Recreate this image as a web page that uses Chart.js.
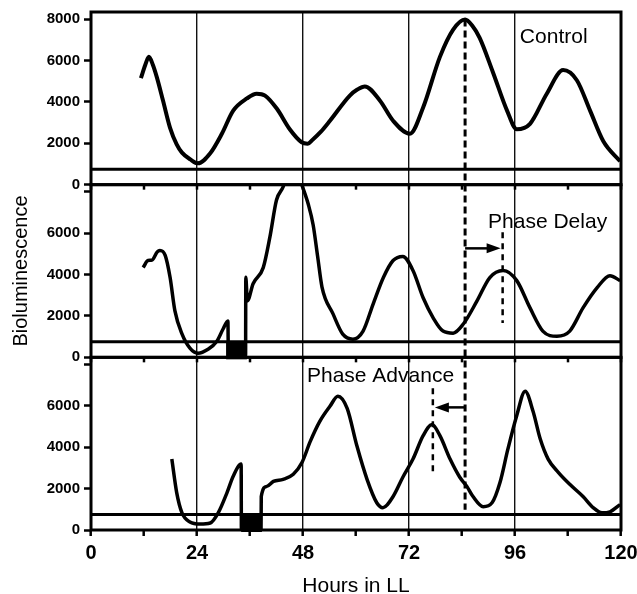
<!DOCTYPE html>
<html>
<head>
<meta charset="utf-8">
<script src="https://cdn.jsdelivr.net/npm/chart.js@4.4.0/dist/chart.umd.min.js"></script>
<style>
  body { margin: 0; background: #fff; }
  #contenitore { width: 637px; height: 594px; }
</style>
</head>
<body>
<div id="contenitore"><canvas id="grafico"></canvas></div>
<script>
// hours in LL and bioluminescence
var ore_control = [11.3, 12.3, 13.1, 14.0, 14.9, 16.3, 17.9, 19.4, 20.6, 22.5, 24.2, 27.0, 29.6, 32.2, 35.3, 37.5, 39.4, 42.1, 45.0, 47.7, 49.0, 50.3, 52.0, 54.1, 58.6, 60.3, 62.0, 65.4, 68.4, 72.2, 75.2, 79.0, 82.0, 84.7, 86.3, 88.0, 91.0, 94.2, 96.4, 99.4, 103.2, 106.9, 110.0, 113.0, 116.0, 119.8];
var valori_control = [5150, 5800, 6180, 5800, 5200, 4070, 2750, 1950, 1550, 1220, 1030, 1520, 2450, 3580, 4170, 4400, 4310, 3670, 2680, 2050, 1980, 2200, 2550, 3090, 4310, 4600, 4750, 4070, 3090, 2460, 3730, 6180, 7500, 7990, 7700, 7100, 5440, 3580, 2680, 2940, 4400, 5540, 5050, 3580, 2100, 1130];

var ore_delay = [11.8, 12.9, 13.8, 15.0, 15.6, 16.8, 17.9, 19.0, 20.6, 22.4, 24.2, 26.5, 28.5, 29.9, 31.0, 31.1, 35.0, 35.05, 35.4, 36.7, 39.0, 40.5, 42.0, 43.5, 45.6, 47.8, 49.2, 50.3, 51.3, 52.3, 54.8, 57.0, 59.3, 61.6, 63.9, 66.2, 68.4, 70.6, 72.9, 75.2, 77.5, 79.7, 82.0, 84.3, 87.4, 90.3, 93.3, 96.4, 99.4, 102.3, 105.5, 108.4, 111.4, 114.6, 117.5, 119.8];
var valori_delay = [4340, 4680, 4700, 5100, 5170, 4930, 3870, 2250, 1130, 440, 200, 390, 780, 1370, 1760, 0, 0, 3870, 2730, 3560, 4340, 5810, 7610, 8240, 9600, 8300, 7400, 6400, 4900, 3400, 2100, 1120, 880, 1270, 2590, 3860, 4680, 4880, 4200, 2880, 1900, 1270, 1170, 1610, 2730, 3860, 4200, 3710, 2390, 1270, 1020, 1270, 2390, 3370, 3950, 3710];

var ore_advance = [18.3, 19.4, 20.6, 22.4, 24.7, 27.0, 28.8, 30.8, 32.2, 34.0, 34.05, 38.5, 38.55, 39.8, 41.3, 43.5, 45.8, 47.8, 49.6, 51.8, 54.1, 55.9, 58.0, 60.2, 62.5, 64.7, 66.1, 68.4, 70.6, 72.9, 75.2, 77.2, 79.0, 81.3, 83.5, 85.1, 86.5, 88.8, 90.8, 92.6, 94.4, 96.4, 98.3, 100.1, 101.7, 103.5, 105.8, 108.4, 111.4, 113.7, 115.7, 117.5, 119.8];
var valori_advance = [3430, 1810, 830, 390, 290, 340, 830, 1810, 2600, 3190, 0, 0, 1620, 2110, 2350, 2450, 2700, 3280, 4260, 5250, 5980, 6470, 5880, 4070, 2450, 1320, 1080, 1620, 2550, 3430, 4560, 5100, 4560, 3430, 2550, 2110, 1620, 1130, 1320, 2300, 3920, 5540, 6710, 5730, 4410, 3430, 2790, 2210, 1620, 1080, 830, 880, 1230];

// axes
var tacche_x = [0, 12, 24, 36, 48, 60, 72, 84, 96, 108, 120];
var linee_giorno = [24, 48, 72, 96];
var tacche_y = [0, 2000, 4000, 6000, 8000];
var massimo_y = 8350;
var linea_base = 750;

// light pulses (start, end hour) and peaks used by the arrows
var impulso_delay = [30.6, 35.3];
var impulso_advance = [34.0, 38.7];
var picco_control = [84.7, 7990];
var picco_delay = [93.2, 4200];
var picco_advance = [77.4, 5100];

function punti(ore, valori) {
  var lista = [];
  for (var i = 0; i < ore.length; i++) {
    lista.push({x: ore[i], y: valori[i]});
  }
  return lista;
}

function curva(etichetta, ore, valori, asse, spessore) {
  return {
    label: etichetta,
    data: punti(ore, valori),
    yAxisID: asse,
    borderColor: '#000',
    borderWidth: spessore,
    pointRadius: 0,
    cubicInterpolationMode: 'monotone',
    fill: false
  };
}

function base(asse) {
  return {
    label: 'base',
    data: [{x: 0, y: linea_base}, {x: 120, y: linea_base}],
    yAxisID: asse,
    borderColor: '#000',
    borderWidth: 3,
    pointRadius: 0,
    fill: false
  };
}

function asse_y(nascondi_8000, con_titolo) {
  return {
    type: 'linear',
    position: 'left',
    stack: 'pannelli',
    stackWeight: 1,
    min: 0,
    max: massimo_y,
    afterBuildTicks: function(scale) {
      scale.ticks = tacche_y.map(function(v) { return {value: v}; });
    },
    afterFit: function(scale) {
      scale.width = 91;
      scale.paddingTop = 0;
      scale.paddingBottom = 0;
    },
    ticks: {
      color: '#000',
      padding: 4,
      font: {family: '"Liberation Sans", Arial, sans-serif', size: 15, weight: 'bold'},
      callback: function(v) { return (nascondi_8000 && v === 8000) ? '' : v; }
    },
    grid: {drawOnChartArea: false, drawTicks: true, tickLength: 7, tickColor: '#000', tickWidth: 2.5},
    border: {display: false},
    title: {
      display: con_titolo,
      text: 'Bioluminescence',
      color: '#000',
      padding: {top: 9, bottom: 0},
      font: {family: '"Liberation Sans", Arial, sans-serif', size: 20}
    }
  };
}

// frames, pulses, dashed lines, arrows and labels
var decorazioni = {
  id: 'decorazioni',
  afterDatasetsDraw: function(chart) {
    var ctx = chart.ctx;
    var x = chart.scales.x;
    var pannelli = [chart.scales.y1, chart.scales.y2, chart.scales.y3];
    ctx.save();

    ctx.fillStyle = '#000';
    disegna_impulso(ctx, x, chart.scales.y2, impulso_delay);
    disegna_impulso(ctx, x, chart.scales.y3, impulso_advance);

    ctx.strokeStyle = '#000';
    ctx.lineWidth = 3;
    for (var i = 0; i < pannelli.length; i++) {
      var p = pannelli[i];
      ctx.strokeRect(x.left, p.top, x.right - x.left, p.bottom - p.top);
    }

    // small ticks under the bottom of the upper panels
    ctx.lineWidth = 2.5;
    for (var k = 0; k < 2; k++) {
      for (var j = 0; j < tacche_x.length; j++) {
        var px = x.getPixelForValue(tacche_x[j]);
        ctx.beginPath();
        ctx.moveTo(px, pannelli[k].bottom);
        ctx.lineTo(px, pannelli[k].bottom + 5);
        ctx.stroke();
      }
    }

    // dashed line from the control peak down through all panels
    var xc = x.getPixelForValue(picco_control[0]);
    ctx.setLineDash([7, 4]);
    ctx.lineWidth = 3;
    ctx.beginPath();
    ctx.moveTo(xc, chart.scales.y1.getPixelForValue(picco_control[1]));
    ctx.lineTo(xc, chart.scales.y3.getPixelForValue(980));
    ctx.stroke();

    var xd = x.getPixelForValue(picco_delay[0]);
    ctx.setLineDash([6, 5]);
    ctx.lineWidth = 2.5;
    ctx.beginPath();
    ctx.moveTo(xd, chart.scales.y2.getPixelForValue(6050));
    ctx.lineTo(xd, chart.scales.y2.getPixelForValue(1660));
    ctx.stroke();

    var xa = x.getPixelForValue(picco_advance[0]);
    ctx.beginPath();
    ctx.moveTo(xa, chart.scales.y3.getPixelForValue(6860));
    ctx.lineTo(xa, chart.scales.y3.getPixelForValue(2700));
    ctx.stroke();
    ctx.setLineDash([]);

    freccia(ctx, xc, xd - 2, chart.scales.y2.getPixelForValue(5270));
    freccia(ctx, xc, xa + 2, chart.scales.y3.getPixelForValue(5930));

    ctx.fillStyle = '#000';
    ctx.font = '21px "Liberation Sans", Arial, sans-serif';
    ctx.textBaseline = 'middle';
    ctx.textAlign = 'left';
    ctx.fillText('Control', x.getPixelForValue(97.1), chart.scales.y1.getPixelForValue(7150));
    ctx.fillText('Phase Delay', x.getPixelForValue(89.9), chart.scales.y2.getPixelForValue(6540));
    ctx.fillText('Phase Advance', x.getPixelForValue(48.9), chart.scales.y3.getPixelForValue(7450));
    ctx.restore();
  }
};

function disegna_impulso(ctx, x, y, impulso) {
  var x1 = x.getPixelForValue(impulso[0]);
  var x2 = x.getPixelForValue(impulso[1]);
  var y1 = y.getPixelForValue(linea_base);
  var y2 = y.getPixelForValue(0) + 2;
  ctx.fillRect(x1, y1, x2 - x1, y2 - y1);
}

function freccia(ctx, da, a, y) {
  var verso = a > da ? 1 : -1;
  ctx.lineWidth = 2.5;
  ctx.beginPath();
  ctx.moveTo(da, y);
  ctx.lineTo(a - verso * 12, y);
  ctx.stroke();
  ctx.beginPath();
  ctx.moveTo(a, y);
  ctx.lineTo(a - verso * 14, y - 5);
  ctx.lineTo(a - verso * 14, y + 5);
  ctx.closePath();
  ctx.fill();
}

var ctx = document.getElementById('grafico').getContext('2d');
var chart = new Chart(ctx, {
  type: 'line',
  data: {
    datasets: [
      curva('Control', ore_control, valori_control, 'y1', 4),
      curva('Phase Delay', ore_delay, valori_delay, 'y2', 3.5),
      curva('Phase Advance', ore_advance, valori_advance, 'y3', 3.5),
      base('y1'),
      base('y2'),
      base('y3')
    ]
  },
  options: {
    responsive: true,
    maintainAspectRatio: false,
    animation: false,
    layout: {padding: {top: 12, right: 16, bottom: 0, left: 0}},
    plugins: {legend: {display: false}, tooltip: {enabled: false}},
    scales: {
      x: {
        type: 'linear',
        position: 'bottom',
        min: 0,
        max: 120,
        afterBuildTicks: function(scale) {
          scale.ticks = tacche_x.map(function(v) { return {value: v}; });
        },
        afterFit: function(scale) {
          scale.height = 64;
          scale.paddingLeft = 0;
          scale.paddingRight = 0;
        },
        ticks: {
          color: '#000',
          padding: 5,
          maxRotation: 0,
          autoSkip: false,
          font: {family: '"Liberation Sans", Arial, sans-serif', size: 20, weight: 'bold'},
          callback: function(v) { return v % 24 === 0 ? v : ''; }
        },
        grid: {
          color: function(c) { return linee_giorno.indexOf(c.tick.value) >= 0 ? '#111' : 'rgba(0,0,0,0)'; },
          lineWidth: 1.4,
          drawTicks: true,
          tickLength: 6,
          tickColor: '#000',
          tickWidth: 2.5
        },
        border: {display: false},
        title: {
          display: true,
          text: 'Hours in LL',
          color: '#000',
          padding: {top: 0, bottom: -3},
          font: {family: '"Liberation Sans", Arial, sans-serif', size: 21, lineHeight: 1}
        }
      },
      // stacked axes are placed bottom-up, so the lowest panel comes first
      y3: asse_y(true, false),
      y2: asse_y(true, true),
      y1: asse_y(false, false)
    }
  },
  plugins: [decorazioni]
});
</script>
</body>
</html>
